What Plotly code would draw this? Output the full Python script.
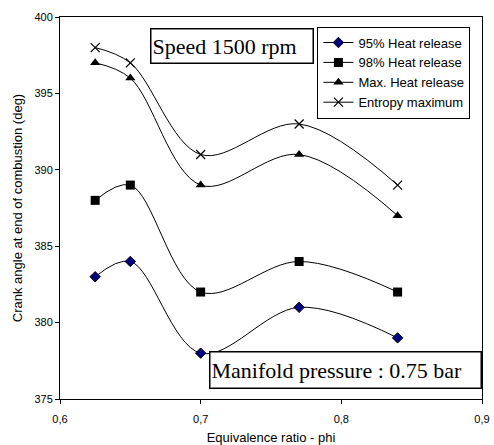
import plotly.graph_objects as go

phi = [0.625, 0.65, 0.7, 0.77, 0.84]
hr95 = [383, 384, 378, 381, 379]
hr98 = [388, 389, 382, 384, 382]
hrmax = [397, 396, 389, 391, 387]
entropy = [398, 397, 391, 393, 389]

series = [
    ("95% Heat release", hr95, "diamond", "#000080", 8, 1),
    ("98% Heat release", hr98, "square", "black", 9, 0),
    ("Max. Heat release", hrmax, "triangle-up", "black", 9, 0),
    ("Entropy maximum", entropy, "x-thin-open", "black", 9, 1.2),
]

fig = go.Figure()
for name, ys, sym, col, size, lw in series:
    fig.add_trace(go.Scatter(
        x=phi, y=ys, name=name, mode="lines+markers",
        line=dict(color="black", width=1, shape="spline", smoothing=1),
        marker=dict(symbol=sym, color=col, size=size,
                    line=dict(color="black", width=lw)),
    ))

fig.update_layout(
    width=494, height=445,
    margin=dict(l=60, r=12, t=17, b=46, autoexpand=False),
    paper_bgcolor="white", plot_bgcolor="white",
    font=dict(family="Liberation Sans, Arial", size=13, color="black"),
    showlegend=True,
    legend=dict(x=0.61, y=0.975, xanchor="left", yanchor="top",
                bgcolor="white", bordercolor="black", borderwidth=1,
                font=dict(size=13), tracegroupgap=0, itemwidth=30),
    xaxis=dict(range=[0.6, 0.9], tickvals=[0.6, 0.7, 0.8, 0.9],
               ticktext=["0,6", "0,7", "0,8", "0,9"],
               showline=True, linecolor="black", linewidth=1, mirror=True,
               ticks="outside", ticklen=4, tickcolor="black",
               showgrid=False, zeroline=False, automargin=False,
               tickfont=dict(size=11), ticklabelstandoff=6,
               title=dict(text="Equivalence ratio - phi", font=dict(size=13), standoff=10)),
    yaxis=dict(range=[375, 400], tickvals=[375, 380, 385, 390, 395, 400],
               showline=True, linecolor="black", linewidth=1, mirror=True,
               ticks="outside", ticklen=4, tickcolor="black",
               showgrid=False, zeroline=False, automargin=False,
               tickfont=dict(size=11),
               title=dict(text="Crank angle at end of combustion (deg)", font=dict(size=13), standoff=8)),
)

fig.add_annotation(
    xref="paper", yref="paper", x=0.4064, y=0.9228,
    xanchor="center", yanchor="middle",
    text="Speed 1500 rpm", showarrow=False, align="left",
    font=dict(family="Liberation Serif, Times New Roman", size=22, color="black"),
    bordercolor="black", borderwidth=1.5, borderpad=1, bgcolor="white",
    width=159, height=31,
)
fig.add_annotation(
    xref="paper", yref="paper", x=0.6754, y=0.0772,
    xanchor="center", yanchor="middle",
    text="Manifold pressure : 0.75 bar", showarrow=False, align="left",
    font=dict(family="Liberation Serif, Times New Roman", size=22, color="black"),
    bordercolor="black", borderwidth=1.5, borderpad=1, bgcolor="white",
    width=268, height=33,
)

fig.write_html("out.html")
